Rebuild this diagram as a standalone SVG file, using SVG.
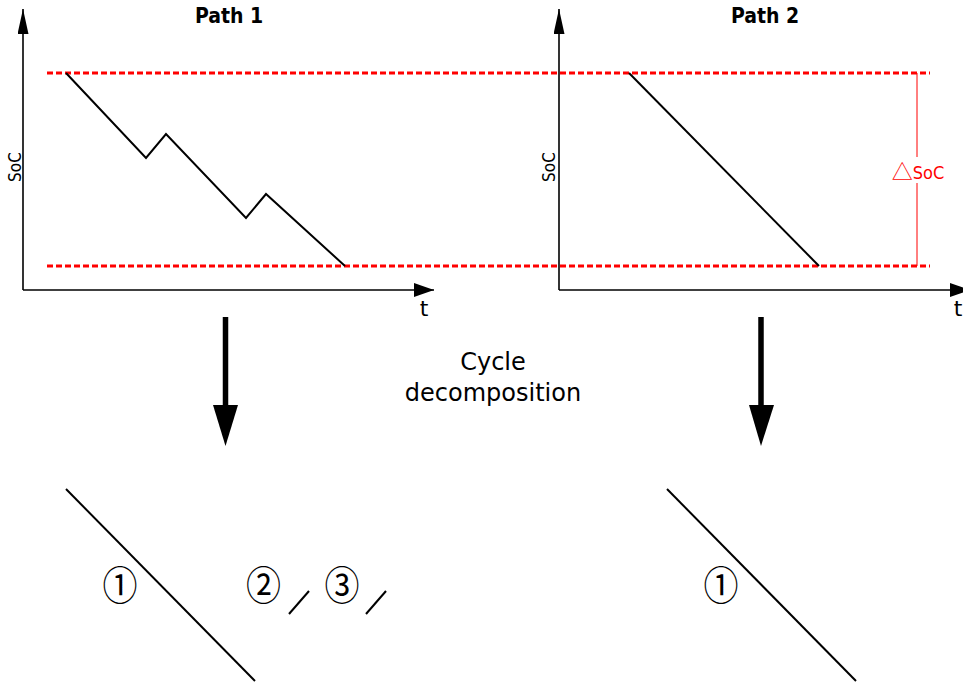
<svg xmlns="http://www.w3.org/2000/svg" width="963" height="686" viewBox="0 0 963 686">
<style>
text{font-family:"DejaVu Sans","Noto Sans CJK SC",sans-serif;fill:#000}
.cond{font-family:"DejaVu Sans Condensed","DejaVu Sans",sans-serif;font-stretch:condensed}
.axis{stroke:#000;stroke-width:1.6;fill:none}
.curve{stroke:#000;stroke-width:2;fill:none;stroke-linejoin:miter}
.dash{stroke:#ff0000;stroke-width:2.8;stroke-dasharray:6 3;fill:none}
.title{font-size:21px;font-weight:bold;text-anchor:middle}
.lbl{font-size:17px;text-anchor:middle}
.num{font-family:"Noto Sans CJK SC",sans-serif;font-size:35px;text-anchor:middle}
</style>
<defs>
<marker id="av" viewBox="0 0 25 11" refX="25" refY="5.5" markerWidth="25" markerHeight="11" markerUnits="userSpaceOnUse" orient="auto">
<path d="M0,0 L25,5.5 L0,11 Z" fill="#000"/>
</marker>
<marker id="ah" viewBox="0 0 20 14" refX="20" refY="7" markerWidth="20" markerHeight="14" markerUnits="userSpaceOnUse" orient="auto">
<path d="M0,0 L20,7 L0,14 Z" fill="#000"/>
</marker>
</defs>
<g id="titles">
<text class="title cond" x="229" y="23">Path 1</text>
<text class="title cond" x="765" y="23">Path 2</text>
</g>
<g id="axes">
<line class="axis" x1="23" y1="290" x2="23" y2="9" marker-end="url(#av)"/>
<line class="axis" x1="23" y1="290" x2="434" y2="290" marker-end="url(#ah)"/>
<line class="axis" x1="559" y1="290" x2="559" y2="9" marker-end="url(#av)"/>
<line class="axis" x1="559" y1="290" x2="970" y2="290" marker-end="url(#ah)"/>
<text class="lbl cond" transform="translate(21,167) rotate(-90)">SoC</text>
<text class="lbl cond" transform="translate(555,167) rotate(-90)">SoC</text>
<text x="424" y="316" style="font-size:22px" text-anchor="middle">t</text>
<text x="958" y="316" style="font-size:22px" text-anchor="middle">t</text>
</g>
<g id="limits">
<line class="dash" x1="47" y1="73" x2="930" y2="73"/>
<line class="dash" x1="47" y1="266" x2="930" y2="266"/>
<line x1="917" y1="73" x2="917" y2="157" stroke="#ff0000" stroke-width="1"/>
<line x1="917" y1="183" x2="917" y2="266" stroke="#ff0000" stroke-width="1"/>
<text x="918" y="179" style="fill:#ff0000" text-anchor="middle"><tspan style="font-family:'Noto Sans CJK SC',sans-serif;font-size:21px">△</tspan><tspan class="cond" style="font-size:18px">SoC</tspan></text>
</g>
<g id="path1">
<polyline class="curve" points="66,73 146,158 166,134 246,218 266,194 345,266"/>
</g>
<g id="path2">
<polyline class="curve" points="629,73 819,266"/>
</g>
<g id="connectors">
<line x1="225.5" y1="317" x2="225.5" y2="406" stroke="#000" stroke-width="5.5"/>
<path d="M213,405 L238,405 L225.5,446 Z" fill="#000"/>
<line x1="761" y1="317" x2="761" y2="406" stroke="#000" stroke-width="5.5"/>
<path d="M749,405 L774,405 L761,446 Z" fill="#000"/>
</g>
<g id="cycle-label">
<text x="493" y="370" style="font-size:24px" text-anchor="middle">Cycle</text>
<text x="493" y="401" style="font-size:24px" text-anchor="middle">decomposition</text>
</g>
<g id="decomp1">
<line class="curve" x1="66" y1="489" x2="255" y2="681"/>
<text class="num" transform="translate(120,600) scale(1,1.15)">①</text>
<text class="num" transform="translate(263.5,600) scale(1,1.15)">②</text>
<line class="curve" x1="289" y1="614" x2="309" y2="591"/>
<text class="num" transform="translate(342,600) scale(1,1.15)">③</text>
<line class="curve" x1="366" y1="614" x2="386" y2="591"/>
</g>
<g id="decomp2">
<line class="curve" x1="667" y1="489" x2="856" y2="681"/>
<text class="num" transform="translate(721,600) scale(1,1.15)">①</text>
</g>
</svg>
